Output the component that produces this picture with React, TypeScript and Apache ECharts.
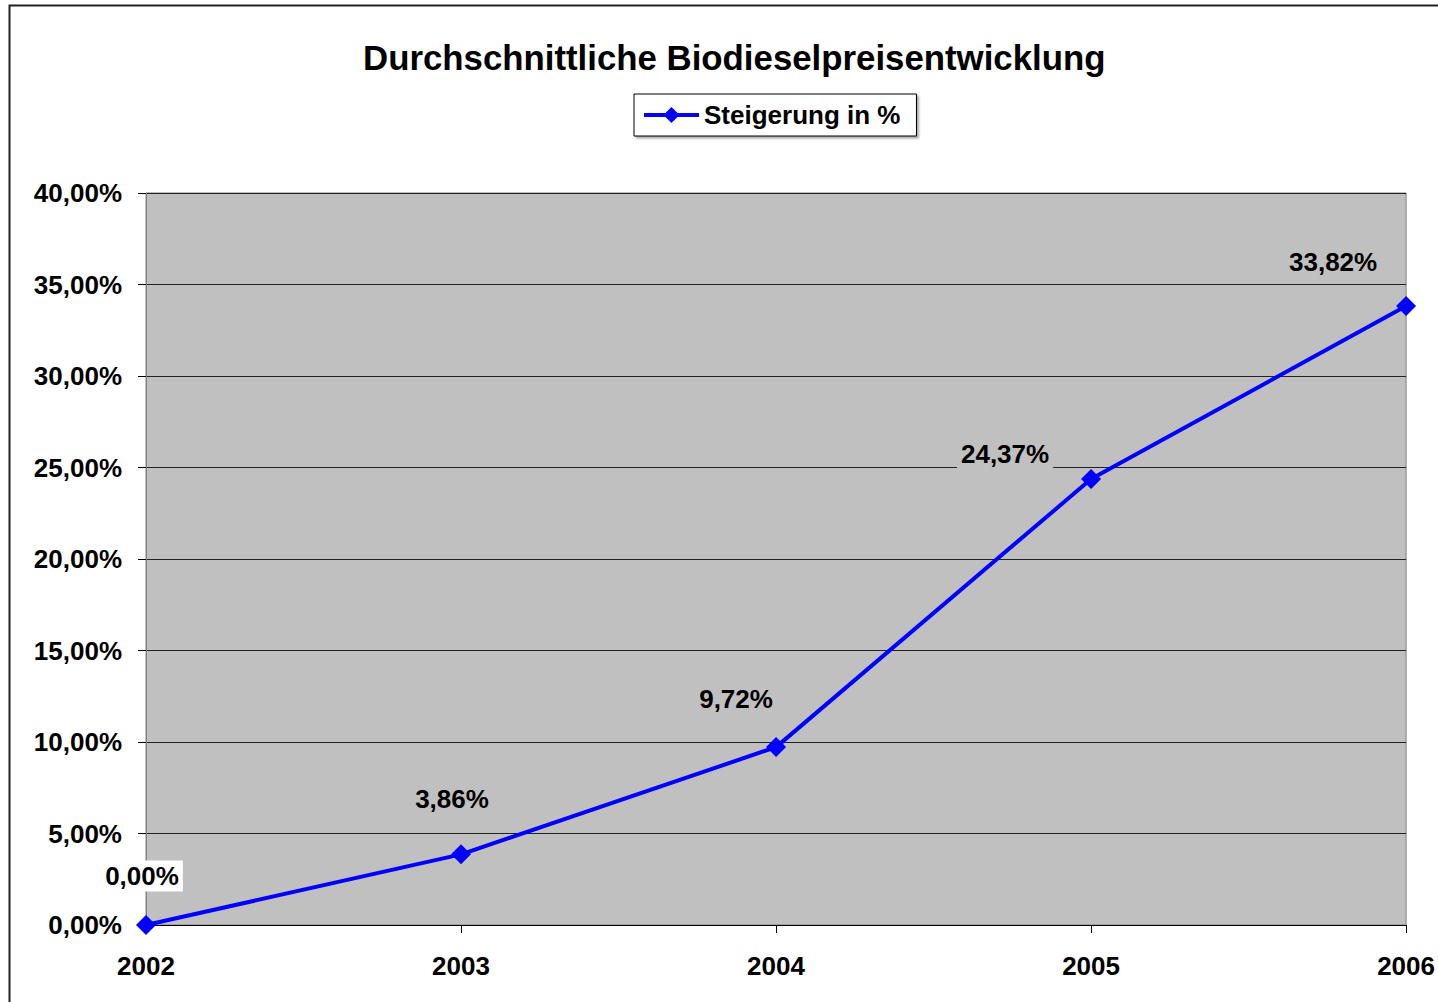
import React, { useEffect, useRef } from "react";
import * as echarts from "echarts";

const categories = ["2002", "2003", "2004", "2005", "2006"];
const steigerung = [0.0, 3.86, 9.72, 24.37, 33.82];
const seriesName = "Steigerung in %";
const titleText = "Durchschnittliche Biodieselpreisentwicklung";
const labelOffsets: [number, number][] = [
  [-4, -49],
  [-9, -55],
  [-40, -48],
  [-86, -25],
  [-73, -44],
];
const labelBackgrounds = ["#FFFFFF", "#C0C0C0", "#C0C0C0", "#C0C0C0", "#C0C0C0"];

const FONT = "'Liberation Sans', Arial, Helvetica, sans-serif";
const fmt = (v: number) => v.toFixed(2).replace(".", ",") + "%";

export default function App() {
  const ref = useRef<HTMLDivElement>(null);
  useEffect(() => {
    if (!ref.current) return;
    const chart = echarts.init(ref.current, undefined, { renderer: "svg" });
    chart.setOption({
      animation: false,
      backgroundColor: "#FFFFFF",
      textStyle: { fontFamily: FONT },
      graphic: [
        {
          type: "rect",
          shape: { x: 9.5, y: 5.5, width: 1500, height: 1100 },
          style: { fill: "none", stroke: "#222", lineWidth: 2 },
          silent: true,
          z: -1,
        },
      ],
      title: {
        text: titleText,
        left: 358,
        top: 35,
        textStyle: { fontFamily: FONT, fontWeight: "bold", fontSize: 34.8, color: "#000" },
      },
      legend: {
        left: 634,
        top: 94,
        padding: [8, 16, 8, 8],
        borderWidth: 1,
        borderColor: "#000",
        backgroundColor: "#FFFFFF",
        shadowColor: "rgba(0,0,0,0.35)",
        shadowOffsetX: 2,
        shadowOffsetY: 2,
        shadowBlur: 2,
        itemWidth: 55,
        itemHeight: 20,
        itemGap: 5,
        lineStyle: { width: 4, color: "#0000FF" },
        textStyle: { fontFamily: FONT, fontWeight: "bold", fontSize: 26, color: "#000" },
        data: [seriesName],
      },
      grid: {
        left: 146,
        right: 31,
        top: 193,
        bottom: 77,
        show: true,
        backgroundColor: "#C0C0C0",
        borderColor: "#808080",
        borderWidth: 1,
        containLabel: false,
      },
      xAxis: {
        type: "category",
        data: categories,
        boundaryGap: false,
        axisLine: { show: true, lineStyle: { color: "#000", width: 1 } },
        axisTick: { show: true, length: 8, inside: false, alignWithLabel: true, lineStyle: { color: "#000" } },
        axisLabel: { margin: 28, fontFamily: FONT, fontWeight: "bold", fontSize: 26, color: "#000" },
        splitLine: { show: false },
      },
      yAxis: {
        type: "value",
        min: 0,
        max: 40,
        interval: 5,
        axisLine: { show: true, lineStyle: { color: "#808080", width: 1 } },
        axisTick: { show: true, length: 8, inside: false, lineStyle: { color: "#000" } },
        axisLabel: {
          margin: 24,
          fontFamily: FONT,
          fontWeight: "bold",
          fontSize: 26,
          color: "#000",
          formatter: (v: number) => fmt(v),
        },
        splitLine: { show: true, lineStyle: { color: "#222", width: 1 } },
      },
      series: [
        {
          name: seriesName,
          type: "line",
          clip: false,
          data: steigerung.map((v, i) => ({
            value: v,
            label: {
              offset: labelOffsets[i],
              backgroundColor: labelBackgrounds[i],
            },
          })),
          symbol: "diamond",
          symbolSize: 20,
          itemStyle: { color: "#0000FF" },
          lineStyle: { color: "#0000FF", width: 4 },
          label: {
            show: true,
            position: "inside",
            fontFamily: FONT,
            fontWeight: "bold",
            fontSize: 26,
            color: "#000",
            padding: [3, 4, 2, 4],
            formatter: (p: any) => fmt(p.value),
          },
          z: 3,
        },
      ],
    });
    return () => chart.dispose();
  }, []);
  return (
    <div
      ref={ref}
      style={{ position: "absolute", left: 0, top: 0, width: 1438, height: 1002 }}
    />
  );
}
